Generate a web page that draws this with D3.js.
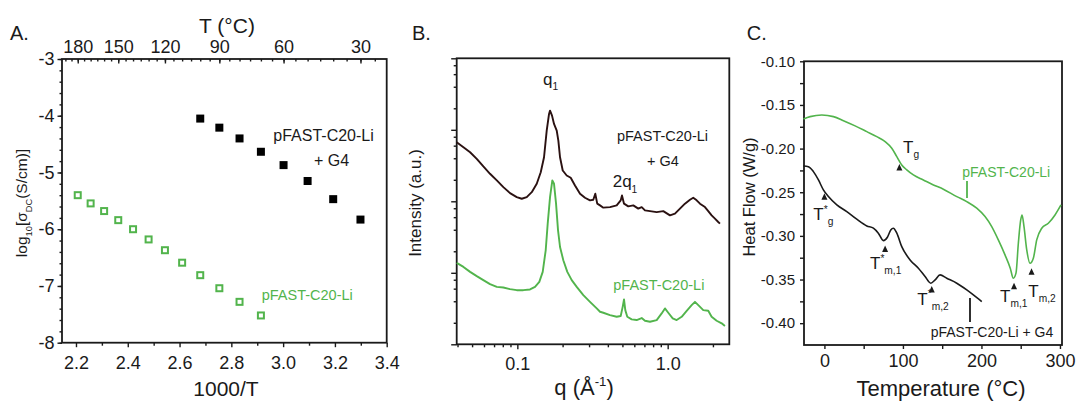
<!DOCTYPE html>
<html>
<head>
<meta charset="utf-8">
<script src="https://cdn.jsdelivr.net/npm/d3@7"></script>
<style>
  body { margin: 0; background: #fff; }
  text { font-family: "Liberation Sans", Arial, sans-serif; fill: #1a1a1a; }
  .tick line { stroke: #1a1a1a; stroke-width: 1.4; }
</style>
</head>
<body>
<script>
// ---------- panel A: conductivity vs 1000/T ----------
var tempNeat = [180, 170, 160, 150, 140, 130, 120, 110, 100, 90, 80, 70];           // deg C
var logSigmaNeat = [-5.40, -5.545, -5.68, -5.84, -6.00, -6.18, -6.37, -6.59, -6.81, -7.04, -7.28, -7.52];
var tempG4 = [100, 90, 80, 70, 60, 50, 40, 30];
var logSigmaG4 = [-4.05, -4.21, -4.40, -4.635, -4.87, -5.15, -5.47, -5.83];
var invTMajor = [2.2, 2.4, 2.6, 2.8, 3.0, 3.2, 3.4];
var invTMinor = [2.3, 2.5, 2.7, 2.9, 3.1, 3.3];
var logSigmaMajor = [-8, -7, -6, -5, -4, -3];
var tempTopMajor = [180, 150, 120, 90, 60, 30];

// ---------- panel B: scattering, q (1/A) and log10 intensity (a.u.) ----------
var qG4 = [0.0395,0.0438,0.0485,0.0537,0.0594,0.0658,0.0730,0.0807,0.0894,0.0991,0.107,0.1155,0.1247,0.1346,0.1431,0.1505,0.1568,0.1625,0.165,0.1701,0.1754,0.1828,0.1874,0.1923,0.2004,0.2130,0.2265,0.2418,0.2612,0.2818,0.3043,0.320,0.330,0.340,0.3548,0.3732,0.4134,0.458,0.487,0.4967,0.5123,0.547,0.5905,0.6375,0.6717,0.7063,0.7627,0.845,0.935,1.036,1.118,1.207,1.303,1.407,1.479,1.559,1.640,1.770,1.862,1.961,2.063,2.170,2.227];
var logIG4 = [2.826,2.756,2.686,2.594,2.487,2.385,2.292,2.198,2.114,2.059,2.036,2.059,2.128,2.245,2.407,2.616,2.989,3.222,3.268,3.198,3.082,2.989,2.849,2.616,2.431,2.361,2.329,2.222,2.106,2.050,2.013,2.022,2.106,1.967,1.943,1.911,1.919,1.943,2.013,2.082,1.967,1.929,1.943,1.897,1.919,1.873,1.863,1.849,1.863,1.803,1.827,1.897,1.967,2.022,2.050,2.013,1.967,1.919,1.863,1.803,1.757,1.710,1.688];
var qNeat = [0.0395,0.0438,0.0485,0.0537,0.0594,0.0658,0.0730,0.0807,0.0894,0.0991,0.1096,0.1214,0.1311,0.140,0.1475,0.1544,0.1592,0.165,0.1709,0.1754,0.1809,0.1865,0.1923,0.2022,0.215,0.230,0.2483,0.2747,0.3043,0.3373,0.3548,0.3732,0.4134,0.458,0.487,0.502,0.5123,0.5225,0.5387,0.5762,0.622,0.6717,0.7063,0.7627,0.845,0.912,0.959,1.009,1.080,1.148,1.239,1.338,1.444,1.519,1.598,1.725,1.862,1.961,2.117,2.286,2.404];
var logINeat = [1.138,1.082,1.013,0.953,0.897,0.841,0.803,0.795,0.771,0.757,0.757,0.767,0.803,0.873,1.013,1.315,1.688,2.059,2.292,2.245,1.967,1.594,1.361,1.176,1.013,0.897,0.803,0.688,0.594,0.502,0.455,0.441,0.409,0.385,0.395,0.524,0.628,0.478,0.385,0.349,0.339,0.367,0.329,0.315,0.339,0.432,0.502,0.441,0.363,0.339,0.385,0.469,0.548,0.594,0.548,0.478,0.469,0.385,0.329,0.293,0.255];
var qMajor = [0.1, 1.0];

// ---------- panel C: DSC ----------
var dscTNeat = [-26.7,-18.2,-3.3,11.5,24.2,39.1,54.0,66.7,77.3,85.8,92.2,98.5,104.9,113.3,126.0,138.8,151.5,168.6,181.3,194.0,204.6,213.1,221.5,230.0,236.7,240.6,244.0,247.0,250.0,251.7,254.2,257.7,261.9,266.1,270.4,276.8,285.2,293.7,301.3];
var dscHFNeat = [-0.1660,-0.1634,-0.1615,-0.1634,-0.1680,-0.1740,-0.1806,-0.1863,-0.1920,-0.1996,-0.2092,-0.2187,-0.2244,-0.2302,-0.2359,-0.2416,-0.2465,-0.2550,-0.2607,-0.2683,-0.2779,-0.2894,-0.3046,-0.3218,-0.3370,-0.3485,-0.3427,-0.3084,-0.2817,-0.2760,-0.2894,-0.3161,-0.3313,-0.3256,-0.3046,-0.2912,-0.2855,-0.2760,-0.2645];
var dscTG4 = [-26.7,-20.4,-14.0,-7.6,-1.3,5.1,15.8,28.5,41.2,54.0,62.4,68.7,75.1,80.2,84.5,87.8,92.2,98.5,109.1,119.7,128.2,135.5,141.0,147.3,155.8,168.6,181.3,189.7,200.4];
var dscHFG4 = [-0.2199,-0.2207,-0.2264,-0.2359,-0.2473,-0.2550,-0.2645,-0.2722,-0.2809,-0.2886,-0.2912,-0.2969,-0.3054,-0.3015,-0.2932,-0.2912,-0.2969,-0.3123,-0.3275,-0.3370,-0.3466,-0.3542,-0.3504,-0.3447,-0.3485,-0.3542,-0.3619,-0.3676,-0.3753];
var markerNames = ["g*", "g", "m1*", "m2*", "m1", "m2"];
var markerT = [0, 95.5, 77.3, 136.7, 241.5, 263.8];
var markerHF = [-0.2513, -0.2176, -0.3109, -0.3573, -0.3538, -0.3372];
var tempCMajor = [0, 100, 200, 300];
var hfMajor = [-0.40, -0.35, -0.30, -0.25, -0.20, -0.15, -0.10];

var green = "#52b44c";
var ink = "#1a1a1a";

var svg = d3.select("body").append("svg")
    .attr("width", 1076)
    .attr("height", 405)
    .style("background", "#fff");

// text with sub/superscript pieces
function richText(g, x, y, parts, size, anchor, color) {
    var t = g.append("text")
        .attr("x", x).attr("y", y)
        .attr("font-size", size)
        .attr("text-anchor", anchor || "start");
    if (color) t.style("fill", color);
    var off = 0;
    parts.forEach(function(p){
        var s = t.append("tspan").text(p.t);
        var target = 0;
        if (p.sub) { target = size * 0.32; s.attr("font-size", size * 0.6); }
        if (p.sup) { target = -size * 0.42; s.attr("font-size", size * 0.6); }
        if (target - off !== 0) s.attr("dy", target - off);
        off = target;
    });
    return t;
}

function frame(x0, y0, x1, y1) {
    svg.append("rect")
        .attr("x", x0).attr("y", y0)
        .attr("width", x1 - x0).attr("height", y1 - y0)
        .attr("fill", "none")
        .attr("stroke", ink)
        .attr("stroke-width", 1.8);
}

function cleanAxis(g) {
    g.select(".domain").remove();
    g.selectAll("text").style("fill", ink);
}

function minusFmt(f) {
    return function(d){ return f(d).replace("\u2212", "-"); };
}

// ================= Panel A =================
var aL = 62, aT = 59, aR = 386.7, aB = 342.7;
var xA = d3.scaleLinear().domain([2.146, 3.4]).range([aL, aR]);
var yA = d3.scaleLinear().domain([-8, -3]).range([aB, aT]);
var invT = function(c){ return 1000 / (c + 273.15); };

// bottom axis
svg.append("g").attr("transform", "translate(0," + aB + ")")
    .call(d3.axisBottom(xA).tickValues(invTMinor).tickSize(3).tickFormat(""))
    .call(cleanAxis);
svg.append("g").attr("transform", "translate(0," + aB + ")")
    .call(d3.axisBottom(xA).tickValues(invTMajor).tickSize(4.5).tickPadding(9).tickFormat(d3.format(".1f")))
    .call(cleanAxis)
    .selectAll("text").attr("font-size", 18);

// left axis
svg.append("g").attr("transform", "translate(" + aL + ",0)")
    .call(d3.axisLeft(yA).tickValues(d3.range(-8, -2.9, 0.2)).tickSize(2.5).tickFormat(""))
    .call(cleanAxis);
svg.append("g").attr("transform", "translate(" + aL + ",0)")
    .call(d3.axisLeft(yA).tickValues(logSigmaMajor).tickSize(4.5).tickPadding(3).tickFormat(minusFmt(d3.format("d"))))
    .call(cleanAxis)
    .selectAll("text").attr("font-size", 18);

// top axis in deg C (ticks point inward)
svg.append("g").attr("transform", "translate(0," + aT + ")")
    .call(d3.axisTop(xA).tickValues(d3.range(25, 195, 5).map(invT)).tickSize(-2.5).tickFormat(""))
    .call(cleanAxis);
svg.append("g").attr("transform", "translate(0," + aT + ")")
    .call(d3.axisTop(xA).tickValues(tempTopMajor.map(invT)).tickSize(-4.5).tickPadding(6)
        .tickFormat(function(d){ return d3.format("d")(Math.round(1000 / d - 273.15)); }))
    .call(cleanAxis)
    .selectAll("text").attr("font-size", 18);

frame(aL, aT, aR, aB);

svg.append("g").selectAll("rect")
    .data(tempG4.map(function(t, i){ return {x: invT(t), y: logSigmaG4[i]}; }))
    .enter().append("rect")
    .attr("x", function(d){ return xA(d.x) - 4; })
    .attr("y", function(d){ return yA(d.y) - 4; })
    .attr("width", 8).attr("height", 8)
    .attr("fill", "#000");

svg.append("g").selectAll("rect")
    .data(tempNeat.map(function(t, i){ return {x: invT(t), y: logSigmaNeat[i]}; }))
    .enter().append("rect")
    .attr("x", function(d){ return xA(d.x) - 3; })
    .attr("y", function(d){ return yA(d.y) - 3; })
    .attr("width", 6).attr("height", 6)
    .attr("fill", "#fff")
    .attr("stroke", green)
    .attr("stroke-width", 2);

svg.append("text").attr("x", 10).attr("y", 40).attr("font-size", 20).text("A.");
svg.append("text").attr("x", 227).attr("y", 33).attr("font-size", 21).attr("text-anchor", "middle").text("T (°C)");
svg.append("text").attr("x", 226).attr("y", 396).attr("font-size", 21).attr("text-anchor", "middle").text("1000/T");
var yLabA = svg.append("g").attr("transform", "translate(27,203) rotate(-90)");
richText(yLabA, 0, 0, [{t:"log"},{t:"10",sub:true},{t:"[σ"},{t:"DC",sub:true},{t:"(S/cm)]"}], 15.5, "middle");
svg.append("text").attr("x", 273.3).attr("y", 141).attr("font-size", 16).text("pFAST-C20-Li");
svg.append("text").attr("x", 331.5).attr("y", 165.5).attr("font-size", 16).attr("text-anchor", "middle").text("+ G4");
svg.append("text").attr("x", 261.7).attr("y", 300).attr("font-size", 14.5).style("fill", green).text("pFAST-C20-Li");

// ================= Panel B =================
var bL = 456.7, bT = 58.3, bR = 729.3, bB = 344.3;
var xB = d3.scaleLog().domain([0.0395, 2.57]).range([bL, bR]);
var yB = d3.scaleLog().domain([1, 1e4]).range([bB, bT]);

var qTicks = xB.ticks();
svg.append("g").attr("transform", "translate(0," + bB + ")")
    .call(d3.axisBottom(xB).tickValues(qTicks.filter(function(d){ return qMajor.indexOf(d) < 0; })).tickSize(3).tickFormat(""))
    .call(cleanAxis);
svg.append("g").attr("transform", "translate(0," + bB + ")")
    .call(d3.axisBottom(xB).tickValues(qMajor).tickSize(5).tickPadding(8).tickFormat(d3.format(".1f")))
    .call(cleanAxis)
    .selectAll("text").attr("font-size", 18);

var iMinor = [], iMajor = [];
[1, 10, 100, 1000].forEach(function(dec){
    iMajor.push(dec);
    [2, 4, 6, 8].forEach(function(m){ iMinor.push(m * dec); });
});
iMajor.push(1e4);
svg.append("g").attr("transform", "translate(" + bL + ",0)")
    .call(d3.axisLeft(yB).tickValues(iMinor).tickSize(3).tickFormat(""))
    .call(cleanAxis);
svg.append("g").attr("transform", "translate(" + bL + ",0)")
    .call(d3.axisLeft(yB).tickValues(iMajor).tickSize(5.5).tickFormat(""))
    .call(cleanAxis);

frame(bL, bT, bR, bB);

var lineB = d3.line()
    .x(function(d){ return xB(d[0]); })
    .y(function(d){ return yB(Math.pow(10, d[1])); });

svg.append("path")
    .datum(qG4.map(function(q, i){ return [q, logIG4[i]]; }))
    .attr("d", lineB)
    .attr("fill", "none").attr("stroke", "#2a1111").attr("stroke-width", 1.9)
    .attr("stroke-linejoin", "round");
svg.append("path")
    .datum(qNeat.map(function(q, i){ return [q, logINeat[i]]; }))
    .attr("d", lineB)
    .attr("fill", "none").attr("stroke", green).attr("stroke-width", 1.9)
    .attr("stroke-linejoin", "round");

svg.append("text").attr("x", 412).attr("y", 40).attr("font-size", 20).text("B.");
richText(svg, 543, 85, [{t:"q"},{t:"1",sub:true}], 17, "start");
richText(svg, 612.7, 187.3, [{t:"2q"},{t:"1",sub:true}], 17, "start");
svg.append("text").attr("x", 662.5).attr("y", 141).attr("font-size", 14.5).attr("text-anchor", "middle").text("pFAST-C20-Li");
svg.append("text").attr("x", 663).attr("y", 165.5).attr("font-size", 14.5).attr("text-anchor", "middle").text("+ G4");
svg.append("text").attr("x", 613.3).attr("y", 289.5).attr("font-size", 14.5).style("fill", green).text("pFAST-C20-Li");
richText(svg, 584, 395, [{t:"q (Å"},{t:"-1",sup:true},{t:")"}], 22, "middle");
svg.append("text").attr("transform", "translate(420.5,203) rotate(-90)")
    .attr("font-size", 17).attr("text-anchor", "middle").text("Intensity (a.u.)");

// ================= Panel C =================
var cL = 804, cT = 61.3, cR = 1062, cB = 345;
var xC = d3.scaleLinear().domain([-26, 302.6]).range([cL, cR]);
var yC = d3.scaleLinear().domain([-0.425, -0.10]).range([cB, cT]);

svg.append("g").attr("transform", "translate(0," + cB + ")")
    .call(d3.axisBottom(xC).tickValues([50, 150, 250]).tickSize(4).tickFormat(""))
    .call(cleanAxis);
svg.append("g").attr("transform", "translate(0," + cB + ")")
    .call(d3.axisBottom(xC).tickValues(tempCMajor).tickSize(4).tickPadding(5).tickFormat(d3.format("d")))
    .call(cleanAxis)
    .selectAll("text").attr("font-size", 18);

svg.append("g").attr("transform", "translate(" + cL + ",0)")
    .call(d3.axisLeft(yC).tickValues([-0.375, -0.325, -0.275, -0.225, -0.175, -0.125]).tickSize(4).tickFormat(""))
    .call(cleanAxis);
svg.append("g").attr("transform", "translate(" + cL + ",0)")
    .call(d3.axisLeft(yC).tickValues(hfMajor).tickSize(4).tickPadding(5).tickFormat(minusFmt(d3.format(".2f"))))
    .call(cleanAxis)
    .selectAll("text").attr("font-size", 15);

frame(cL, cT, cR, cB);

var lineC = d3.line()
    .x(function(d){ return xC(d[0]); })
    .y(function(d){ return yC(d[1]); })
    .curve(d3.curveMonotoneX);

svg.append("path")
    .datum(dscTNeat.map(function(t, i){ return [t, dscHFNeat[i]]; }))
    .attr("d", lineC)
    .attr("fill", "none").attr("stroke", green).attr("stroke-width", 1.6);
svg.append("path")
    .datum(dscTG4.map(function(t, i){ return [t, dscHFG4[i]]; }))
    .attr("d", lineC)
    .attr("fill", "none").attr("stroke", ink).attr("stroke-width", 1.6);

// transition markers (small up-pointing triangles)
svg.append("g").selectAll("path")
    .data(markerT.map(function(t, i){ return [t, markerHF[i]]; }))
    .enter().append("path")
    .attr("d", function(d){
        var x = xC(d[0]), y = yC(d[1]);
        return "M" + x + "," + y + "L" + (x + 3) + "," + (y + 6.5) + "L" + (x - 3) + "," + (y + 6.5) + "Z";
    })
    .attr("fill", ink);

// marker labels
var labC = [
    {x: 813.3, y: 219.8, parts: [{t:"T"},{t:"*",sup:true},{t:"g",sub:true}]},
    {x: 903, y: 152.5, parts: [{t:"T"},{t:"g",sub:true}]},
    {x: 870, y: 269, parts: [{t:"T"},{t:"*",sup:true},{t:"m,1",sub:true}]},
    {x: 917.3, y: 304.5, parts: [{t:"T"},{t:"*",sup:true},{t:"m,2",sub:true}]},
    {x: 1000, y: 301.5, parts: [{t:"T"},{t:"m,1",sub:true}]},
    {x: 1028.3, y: 296.5, parts: [{t:"T"},{t:"m,2",sub:true}]}
];
labC.forEach(function(l){ richText(svg, l.x, l.y, l.parts, 17, "start"); });

svg.append("text").attr("x", 962.3).attr("y", 177).attr("font-size", 14).style("fill", green).text("pFAST-C20-Li");
svg.append("line").attr("x1", 967).attr("x2", 967).attr("y1", 181).attr("y2", 198)
    .attr("stroke", green).attr("stroke-width", 1.8);
svg.append("text").attr("x", 930.7).attr("y", 337).attr("font-size", 14).text("pFAST-C20-Li + G4");
svg.append("line").attr("x1", 970).attr("x2", 970).attr("y1", 298).attr("y2", 322)
    .attr("stroke", ink).attr("stroke-width", 1.8);

svg.append("text").attr("x", 746.7).attr("y", 40).attr("font-size", 20).text("C.");
svg.append("text").attr("x", 941).attr("y", 396).attr("font-size", 22).attr("text-anchor", "middle").text("Temperature (°C)");
svg.append("text").attr("transform", "translate(755,197) rotate(-90)")
    .attr("font-size", 16.5).attr("text-anchor", "middle").text("Heat Flow (W/g)");
</script>
</body>
</html>
